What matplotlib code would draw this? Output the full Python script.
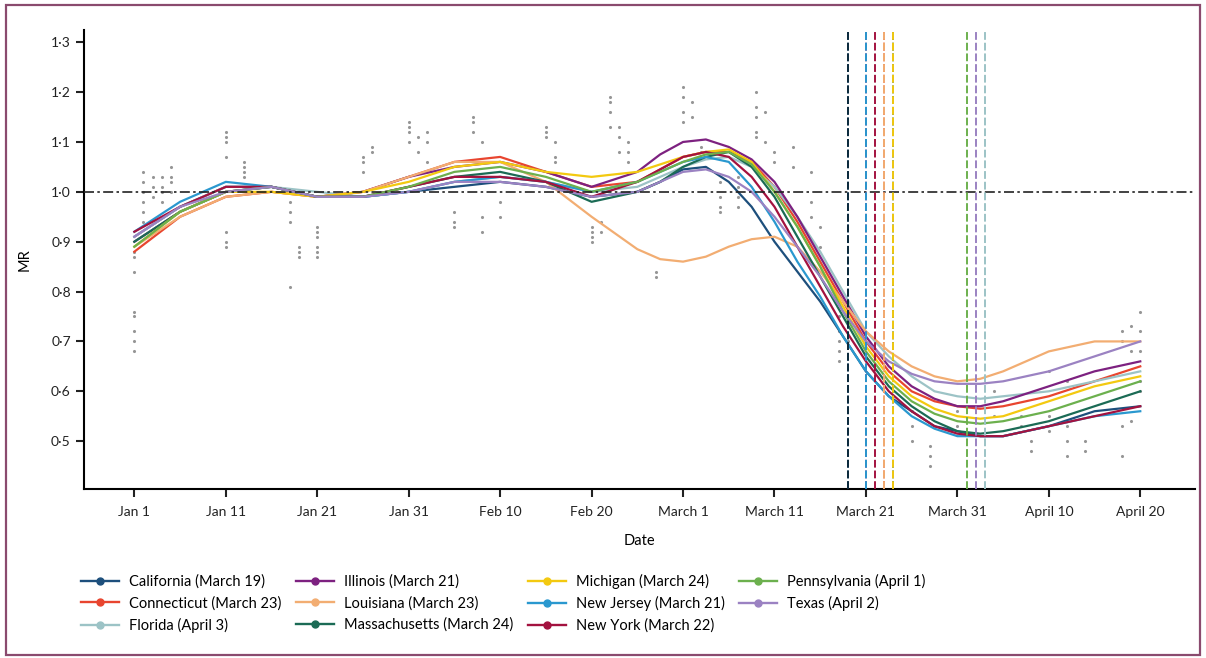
import matplotlib
matplotlib.use("Agg")
import matplotlib.pyplot as plt
from matplotlib.patches import Rectangle
from matplotlib.lines import Line2D

plt.rcParams['font.family'] = ['Lato', 'DejaVu Sans']

# days since Jan 1 2020 (denser readings around the March drop)
days = [0, 5, 10, 15, 20, 25, 30, 35, 40, 45, 50, 55, 57.5, 60, 62.5, 65, 67.5, 70, 72.5,
        75, 77.5, 80, 82.5, 85, 87.5, 90, 92.5, 95, 100, 105, 110]

tick_days = [0, 10, 20, 30, 40, 50, 60, 70, 80, 90, 100, 110]
tick_labels = ["Jan 1", "Jan 11", "Jan 21", "Jan 31", "Feb 10", "Feb 20", "March 1",
               "March 11", "March 21", "March 31", "April 10", "April 20"]
y_ticks = [0.5, 0.6, 0.7, 0.8, 0.9, 1.0, 1.1, 1.2, 1.3]

states = ["California", "Connecticut", "Florida", "Illinois", "Louisiana", "Massachusetts",
          "Michigan", "New Jersey", "New York", "Pennsylvania", "Texas"]
order_dates = ["March 19", "March 23", "April 3", "March 21", "March 23", "March 24",
               "March 24", "March 21", "March 22", "April 1", "April 2"]
order_days = [78, 82, 93, 80, 82, 83, 83, 80, 81, 91, 92]
colors = ["#1d4f7c", "#e8452f", "#9cc3c6", "#7d2180", "#f2ad72", "#1b6b55",
          "#f3c910", "#2a98cf", "#a3123f", "#6cb04e", "#9b82c2"]

california    = [0.91, 0.97, 1.01, 1.01, 0.99, 0.99, 1.00, 1.01, 1.02, 1.01, 0.99, 1.00, 1.02, 1.045, 1.05, 1.02, 0.97, 0.90, 0.84, 0.78, 0.71, 0.64, 0.59, 0.56, 0.53, 0.52, 0.51, 0.51, 0.53, 0.56, 0.57]
connecticut   = [0.88, 0.95, 0.99, 1.00, 0.99, 1.00, 1.03, 1.06, 1.07, 1.04, 1.01, 1.02, 1.045, 1.07, 1.08, 1.08, 1.06, 1.01, 0.94, 0.86, 0.78, 0.70, 0.64, 0.60, 0.58, 0.57, 0.565, 0.57, 0.59, 0.62, 0.65]
florida       = [0.91, 0.97, 1.01, 1.01, 1.00, 0.99, 1.00, 1.02, 1.03, 1.02, 1.00, 1.01, 1.03, 1.05, 1.065, 1.07, 1.05, 1.01, 0.95, 0.88, 0.80, 0.72, 0.67, 0.63, 0.60, 0.59, 0.585, 0.59, 0.60, 0.62, 0.64]
illinois      = [0.90, 0.96, 1.00, 1.01, 0.99, 1.00, 1.03, 1.05, 1.06, 1.04, 1.01, 1.04, 1.075, 1.10, 1.105, 1.09, 1.065, 1.02, 0.95, 0.87, 0.79, 0.71, 0.65, 0.61, 0.585, 0.57, 0.57, 0.58, 0.61, 0.64, 0.66]
louisiana     = [0.89, 0.95, 0.99, 1.00, 0.99, 1.00, 1.03, 1.06, 1.06, 1.02, 0.95, 0.885, 0.865, 0.86, 0.87, 0.89, 0.905, 0.91, 0.89, 0.84, 0.78, 0.72, 0.68, 0.65, 0.63, 0.62, 0.625, 0.64, 0.68, 0.70, 0.70]
massachusetts = [0.90, 0.96, 1.00, 1.01, 0.99, 0.99, 1.01, 1.03, 1.04, 1.02, 0.98, 1.00, 1.02, 1.05, 1.07, 1.08, 1.05, 0.99, 0.91, 0.83, 0.75, 0.67, 0.61, 0.57, 0.54, 0.52, 0.515, 0.52, 0.54, 0.57, 0.60]
michigan      = [0.89, 0.96, 1.00, 1.00, 0.99, 1.00, 1.02, 1.05, 1.06, 1.04, 1.03, 1.04, 1.055, 1.07, 1.08, 1.085, 1.06, 1.00, 0.93, 0.85, 0.77, 0.69, 0.63, 0.59, 0.565, 0.55, 0.545, 0.55, 0.58, 0.61, 0.63]
new_jersey    = [0.92, 0.98, 1.02, 1.01, 0.99, 0.99, 1.00, 1.02, 1.03, 1.02, 1.00, 1.02, 1.04, 1.06, 1.07, 1.06, 1.01, 0.94, 0.86, 0.79, 0.71, 0.64, 0.59, 0.55, 0.525, 0.51, 0.51, 0.51, 0.53, 0.55, 0.56]
new_york      = [0.92, 0.97, 1.01, 1.01, 0.99, 0.99, 1.01, 1.03, 1.03, 1.02, 0.99, 1.02, 1.045, 1.07, 1.08, 1.07, 1.03, 0.97, 0.89, 0.81, 0.73, 0.66, 0.60, 0.56, 0.53, 0.515, 0.51, 0.51, 0.53, 0.55, 0.57]
pennsylvania  = [0.89, 0.96, 1.00, 1.01, 0.99, 0.99, 1.01, 1.04, 1.05, 1.03, 1.00, 1.02, 1.04, 1.06, 1.075, 1.08, 1.055, 1.00, 0.93, 0.85, 0.76, 0.68, 0.62, 0.58, 0.555, 0.54, 0.535, 0.54, 0.56, 0.59, 0.62]
texas         = [0.91, 0.97, 1.00, 1.01, 0.99, 0.99, 1.00, 1.02, 1.02, 1.01, 0.99, 1.00, 1.02, 1.04, 1.045, 1.03, 1.00, 0.95, 0.89, 0.83, 0.76, 0.70, 0.66, 0.635, 0.62, 0.615, 0.615, 0.62, 0.64, 0.67, 0.70]

series = [california, connecticut, florida, illinois, louisiana, massachusetts,
          michigan, new_jersey, new_york, pennsylvania, texas]

obs_day = [0, 0, 0, 0, 0, 0, 0, 0, 1, 1, 1, 1, 1, 1, 2, 2, 2, 3, 3, 3, 3, 4, 4, 4, 4,
           10, 10, 10, 10, 10, 10, 10, 12, 12, 12, 12, 17, 17, 17, 17, 18, 18, 18,
           20, 20, 20, 20, 20, 20, 25, 25, 25, 26, 26, 30, 30, 30, 30, 31, 31, 32, 32, 32,
           35, 35, 35, 37, 37, 37, 38, 38, 38, 40, 40, 45, 45, 45, 46, 46, 46,
           50, 50, 50, 50, 51, 51, 52, 52, 52, 52, 53, 53, 53, 54, 54, 54, 57, 57,
           60, 60, 60, 60, 61, 61, 62, 62, 64, 64, 64, 64, 66, 66, 66, 66,
           68, 68, 68, 68, 68, 69, 69, 70, 70, 72, 72, 74, 74, 74, 75, 75,
           77, 77, 77, 77, 77, 78, 85, 85, 85, 87, 87, 87, 90, 90, 94, 94, 97, 97, 98, 98,
           100, 100, 100, 102, 102, 102, 102, 104, 104, 108, 108, 108, 108, 109, 109, 109,
           110, 110, 110, 110, 110]
obs_mr = [0.76, 0.75, 0.72, 0.70, 0.68, 0.84, 0.87, 0.88, 1.04, 1.02, 1.00, 0.98, 0.96, 0.94,
          1.03, 1.01, 0.99, 1.03, 1.01, 1.00, 0.98, 1.05, 1.03, 1.02, 1.00,
          1.12, 1.11, 1.10, 1.07, 0.92, 0.90, 0.89, 1.06, 1.05, 1.04, 1.03, 0.98, 0.96, 0.94, 0.81,
          0.89, 0.88, 0.87, 0.93, 0.92, 0.91, 0.89, 0.88, 0.87, 1.07, 1.06, 1.04, 1.09, 1.08,
          1.14, 1.13, 1.12, 1.10, 1.11, 1.08, 1.12, 1.10, 1.06,
          0.96, 0.94, 0.93, 1.15, 1.14, 1.12, 1.10, 0.95, 0.92, 0.98, 0.95, 1.13, 1.11, 1.12,
          1.10, 1.07, 1.06, 0.92, 0.91, 0.90, 0.93, 0.94, 0.92, 1.19, 1.18, 1.16, 1.13,
          1.13, 1.11, 1.08, 1.10, 1.08, 1.06, 0.84, 0.83,
          1.21, 1.19, 1.16, 1.14, 1.18, 1.15, 1.09, 1.08, 0.96, 0.97, 0.99, 1.02,
          1.03, 1.01, 0.99, 0.97, 1.20, 1.17, 1.15, 1.12, 1.11, 1.16, 1.10, 1.08, 1.06,
          1.09, 1.05, 1.04, 0.98, 0.95, 0.93, 0.89,
          0.75, 0.72, 0.70, 0.68, 0.66, 0.70, 0.56, 0.53, 0.50, 0.49, 0.47, 0.45,
          0.56, 0.53, 0.60, 0.55, 0.55, 0.53, 0.50, 0.48,
          0.64, 0.55, 0.52, 0.62, 0.53, 0.50, 0.47, 0.50, 0.48, 0.72, 0.70, 0.53, 0.47,
          0.73, 0.68, 0.54, 0.76, 0.72, 0.68, 0.62, 0.60]

fig = plt.figure(figsize=(12.06, 6.58), dpi=100)
ax = fig.add_axes([0.0697, 0.2568, 0.9213, 0.6972])

# page border
fig.patches.append(Rectangle((0.005, 0.004), 0.99, 0.988, transform=fig.transFigure,
                             fill=False, edgecolor="#8a4a6e", linewidth=1.6))

ax.scatter(obs_day, obs_mr, s=5, color="#505050", alpha=0.6, linewidths=0, zorder=2)

for vals, c in zip(series, colors):
    ax.plot(days, vals, color=c, lw=1.6, zorder=3)

ax.axhline(1.0, color="#222222", lw=1.2, ls=(0, (6, 2, 1.5, 2)), zorder=4)
for od, c in zip(order_days, colors):
    ax.axvline(od, color=c, lw=1.4, ls=(0, (4, 1.5)), zorder=4)
# California line drawn darker on top
ax.axvline(order_days[0], color="#0d2a3d", lw=1.4, ls=(0, (4, 1.5)), zorder=5)

ax.set_xlim(-5.5, 116)
ax.set_ylim(0.404, 1.324)
ax.set_xticks(tick_days)
ax.set_xticklabels(tick_labels)
ax.set_yticks(y_ticks)
ax.set_yticklabels([f"{v:.1f}".replace(".", "·") for v in y_ticks])
ax.tick_params(direction="out", length=6, width=1.5, labelsize=10, colors="#222222")
ax.tick_params(axis="x", pad=6)
for s in ["top", "right"]:
    ax.spines[s].set_visible(False)
for s in ["left", "bottom"]:
    ax.spines[s].set_linewidth(1.5)
ax.set_xlabel("Date", fontsize=10.5, labelpad=12)
ax.set_ylabel("MR", fontsize=10.5, labelpad=14)

handles = [Line2D([], [], color=c, lw=1.7, marker="o", markersize=5) for c in colors]
labels = [f"{n} ({d})" for n, d in zip(states, order_dates)]
fig.legend(handles, labels, ncol=4, loc="upper left", bbox_to_anchor=(0.062, 0.137),
           frameon=False, fontsize=10.5, handlelength=2.6, columnspacing=1.0,
           labelspacing=0.5, handletextpad=0.7, borderaxespad=0)

fig.savefig("out.png", dpi=100)
